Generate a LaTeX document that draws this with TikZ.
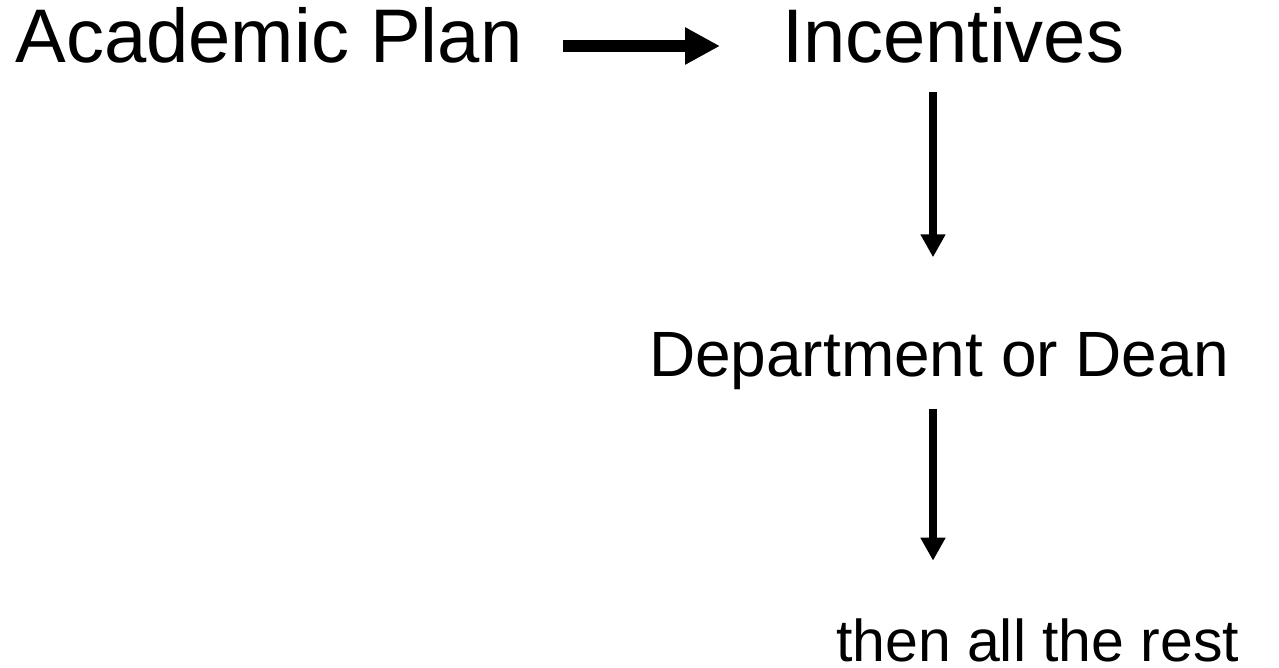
\documentclass[tikz,border=0pt]{standalone}
\usepackage{fontspec}
\setmainfont{Liberation Sans}
\usetikzlibrary{arrows.meta}
\begin{document}
\begin{tikzpicture}[x=1pt,y=-1pt,
  lbl/.style={inner sep=0pt, outer sep=0pt, anchor=base west},
  big/.style={lbl, font=\fontsize{76}{90}\selectfont},
  mid/.style={lbl, font=\fontsize{64}{76}\selectfont},
  small/.style={lbl, font=\fontsize{59}{70}\selectfont},
  harrow/.style={line width=12.7pt, -{Triangle[length=35pt,width=35pt]}},
  varrow/.style={line width=8pt, -{Triangle[length=23pt,width=23.6pt]}}]
\useasboundingbox (0,0) rectangle (1279,668);
% labels
\node[big] (plan) at (15.5,62.7) {Academic Plan};
\node[big] (inc) at (782,62.7) {Incentives};
\node[mid] (dept) at (649,376) {Department or Dean};
\node[small] (rest) at (836,661.5) {then all the rest};
% column of the vertical arrows
\coordinate (col) at (933,0);
% connectors
\draw[harrow, shorten <=41pt, shorten >=62pt]
  ([yshift=16.7pt]plan.base east) -- ([yshift=16.7pt]inc.base west);
\draw[varrow, shorten <=29pt, shorten >=118.7pt]
  (inc.base -| col) -- (dept.base -| col);
\draw[varrow, shorten <=33.3pt, shorten >=100.8pt]
  (dept.base -| col) -- (rest.base -| col);
\end{tikzpicture}
\end{document}
